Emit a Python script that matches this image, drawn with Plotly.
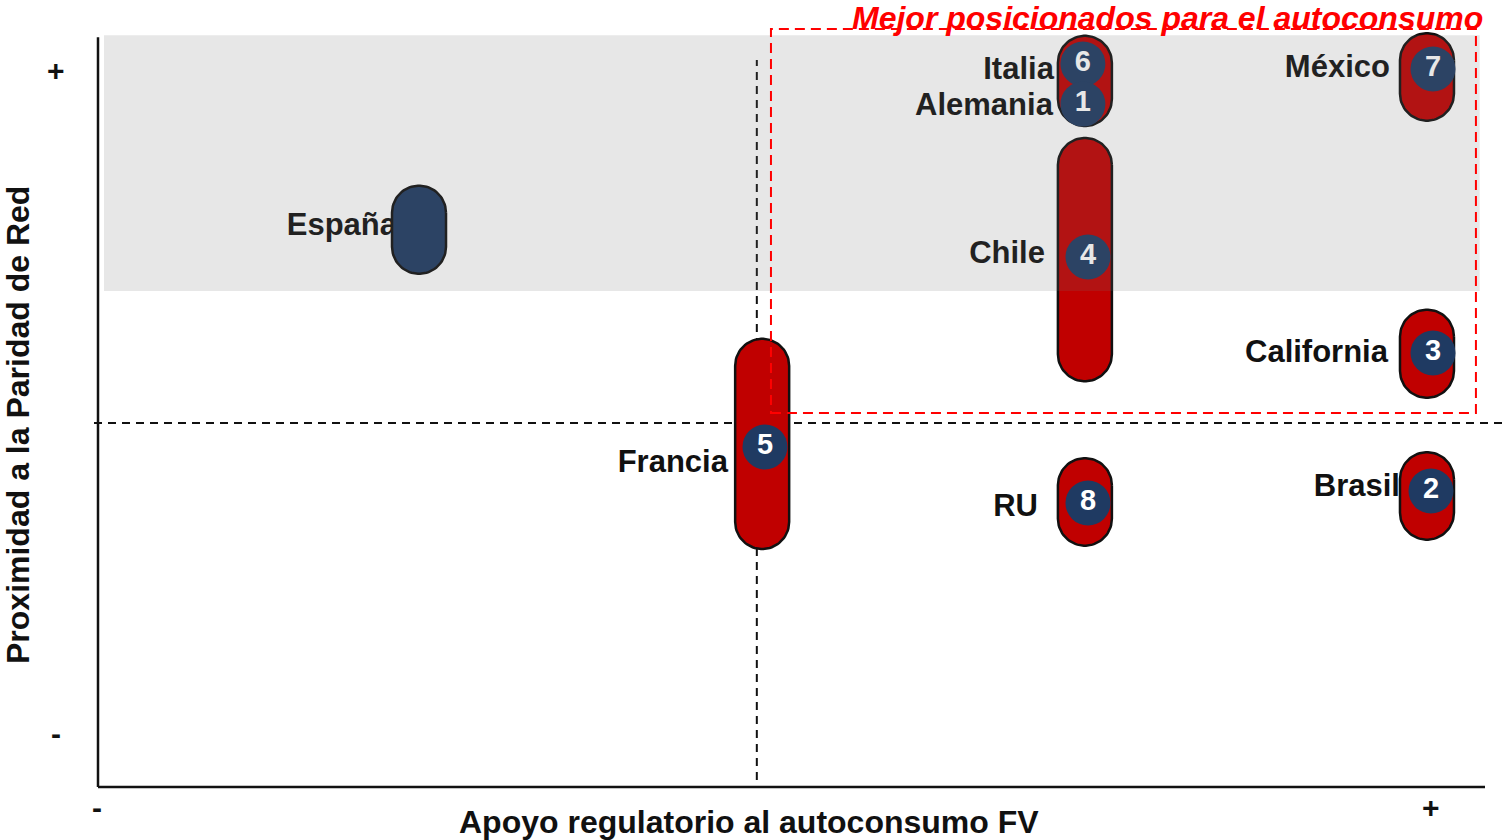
import numpy as np
import plotly.graph_objects as go

# ---------------- data ----------------
# vertical range of each country's capsule (proximity to grid parity)
rango_nombre = ["España", "Francia", "Italia / Alemania", "Chile", "México", "California", "Brasil", "RU"]
rango_x = [0.2407, 0.498, 0.740, 0.740, 0.9965, 0.9965, 0.9965, 0.740]
rango_min = [0.694, 0.279, 0.917, 0.532, 0.925, 0.507, 0.293, 0.284]
rango_max = [0.827, 0.596, 1.053, 0.899, 1.057, 0.640, 0.425, 0.416]

# ranking positions (numbered markers)
puesto = [1, 2, 3, 4, 5, 6, 7, 8]
puesto_pais = ["Alemania", "Brasil", "California", "Chile", "Francia", "Italia", "México", "RU"]
puesto_x = [0.7385, 0.9995, 1.001, 0.7423, 0.5001, 0.7385, 1.001, 0.7423]
puesto_y = [0.950, 0.3665, 0.5747, 0.7195, 0.4329, 1.0106, 1.003, 0.3484]

# quadrant split and highlighted zones
corte_x = 0.494
corte_y = 0.469
franja_y = [0.668, 1.054]
mejor_x = [0.5046, 1.0332]
mejor_y = [0.4842, 1.0633]

eje_ticks = [0, 1]
eje_ticktext = ["-", "+"]

# ---------------- layout geometry ----------------
W, H = 1505, 840
ML, MR, MT, MB = 90, 0, 0, 50
X_RANGE = [-0.006, 1.055]
Y_RANGE = [-0.0845, 1.107]
PW, PH = W - ML - MR, H - MT - MB
SX = PW / (X_RANGE[1] - X_RANGE[0])   # px per x unit
SY = PH / (Y_RANGE[1] - Y_RANGE[0])   # px per y unit

FONT = "Liberation Sans, Arial, sans-serif"
INK = "#111111"
RED = "#C00000"
NAVY = "#1F3A62"

color_capsula = {"España": NAVY}

# label nudges in pixels (dx to right edge of text, dy downward)
label_nudge = {
    "Italia": (-29, 7), "Alemania": (-30, 3), "Chile": (-43, -2),
    "México": (-43, 0), "California": (-45, 1), "Brasil": (-31, -3),
    "RU": (-50, 5), "Francia": (-37, 17), "España": (-22, -2),
}


def capsule(cx, y0, y1, half_w_px=27, n=40):
    rx = half_w_px / SX
    ry = half_w_px / SY
    t_top = np.linspace(0, np.pi, n)
    t_bot = np.linspace(np.pi, 2 * np.pi, n)
    xs = np.concatenate([cx + rx * np.cos(t_top), cx + rx * np.cos(t_bot), [cx + rx]])
    ys = np.concatenate([(y1 - ry) + ry * np.sin(t_top), (y0 + ry) + ry * np.sin(t_bot), [y1 - ry]])
    return xs, ys


fig = go.Figure()

# country labels (drawn first, capsules sit over them)
lab_x, lab_y, lab_t = [], [], []
for p, x, y in zip(puesto_pais, puesto_x, puesto_y):
    dx, dy = label_nudge[p]
    lab_x.append(x + dx / SX)
    lab_y.append(y - dy / SY)
    lab_t.append(p)
i_es = rango_nombre.index("España")
dx, dy = label_nudge["España"]
lab_x.append(rango_x[i_es] + dx / SX)
lab_y.append((rango_min[i_es] + rango_max[i_es]) / 2 - dy / SY)
lab_t.append("España")

fig.add_trace(go.Scatter(
    x=lab_x, y=lab_y, text=lab_t, mode="text", textposition="middle left",
    textfont=dict(family=FONT, size=31, color=INK, weight="bold"),
    hoverinfo="skip", showlegend=False,
))

# capsules
for name, cx, y0, y1 in zip(rango_nombre, rango_x, rango_min, rango_max):
    xs, ys = capsule(cx, y0, y1)
    fig.add_trace(go.Scatter(
        x=xs, y=ys, mode="lines", fill="toself",
        fillcolor=color_capsula.get(name, RED),
        line=dict(color=INK, width=2.5),
        hoverinfo="skip", showlegend=False,
    ))

# numbered ranking markers (drawn from last to first so lower ranks sit on top)
order = list(range(len(puesto)))[::-1]
fig.add_trace(go.Scatter(
    x=[puesto_x[i] for i in order], y=[puesto_y[i] for i in order],
    text=[str(puesto[i]) for i in order],
    mode="markers+text", textposition="middle center",
    marker=dict(size=45, color=NAVY, line=dict(width=0)),
    textfont=dict(family=FONT, size=29, color="white", weight="bold"),
    hoverinfo="skip", showlegend=False,
))

shapes = [
    # quadrant split lines
    dict(type="line", xref="x", yref="y", x0=corte_x, x1=corte_x,
         y0=(734 - 780) / 663, y1=(734 - 60) / 663,
         line=dict(color=INK, width=2, dash="8px,6px"), layer="below"),
    dict(type="line", xref="x", yref="y", x0=-0.003, x1=X_RANGE[1],
         y0=corte_y, y1=corte_y,
         line=dict(color=INK, width=2, dash="8px,6px"), layer="below"),
    # axis lines
    dict(type="line", xref="x", yref="y", x0=0, x1=0, y0=-0.08, y1=1.051,
         line=dict(color=INK, width=2.5), layer="above"),
    dict(type="line", xref="x", yref="y", x0=0, x1=1.04, y0=-0.08, y1=-0.08,
         line=dict(color=INK, width=2.5), layer="above"),
    # translucent grey band over the top zone
    dict(type="rect", xref="x", yref="y", x0=0.0045, x1=1.036,
         y0=franja_y[0], y1=franja_y[1],
         fillcolor="rgba(114,114,114,0.167)", line=dict(width=0), layer="above"),
    # best-positioned zone
    dict(type="rect", xref="x", yref="y", x0=mejor_x[0], x1=mejor_x[1],
         y0=mejor_y[0], y1=mejor_y[1],
         fillcolor="rgba(0,0,0,0)", line=dict(color="#FF0000", width=2, dash="10px,6px"),
         layer="above"),
]


def px_x(px):
    return (px - ML) / PW


def px_y(py):
    return (H - MB - py) / PH


annotations = [
    dict(text="<b><i>Mejor posicionados para el autoconsumo</i></b>",
         xref="paper", yref="paper", x=px_x(1484), y=px_y(18),
         xanchor="right", yanchor="middle", showarrow=False, borderpad=0,
         font=dict(family=FONT, size=32, color="#FF0000")),
    dict(text="<b>Apoyo regulatorio al autoconsumo FV</b>",
         xref="paper", yref="paper", x=px_x(749), y=px_y(822),
         xanchor="center", yanchor="middle", showarrow=False,
         font=dict(family=FONT, size=32, color=INK)),
    dict(text="<b>Proximidad a la Paridad de Red</b>", textangle=-90,
         xref="paper", yref="paper", x=px_x(18), y=px_y(425),
         xanchor="center", yanchor="middle", showarrow=False,
         font=dict(family=FONT, size=32, color=INK)),
]
# axis end markers
for v, t in zip(eje_ticks, eje_ticktext):
    annotations.append(dict(text=f"<b>{t}</b>", xref="x", yref="paper",
                            x=v - 1 / SX, y=px_y(808), xanchor="center", yanchor="middle",
                            showarrow=False, font=dict(family=FONT, size=30, color=INK)))
    annotations.append(dict(text=f"<b>{t}</b>", xref="paper", yref="y",
                            x=px_x(56), y=v, xanchor="center", yanchor="middle",
                            showarrow=False, font=dict(family=FONT, size=30, color=INK)))

fig.update_layout(
    width=W, height=H,
    margin=dict(l=ML, r=MR, t=MT, b=MB),
    paper_bgcolor="white", plot_bgcolor="white",
    xaxis=dict(range=X_RANGE, visible=False, fixedrange=True),
    yaxis=dict(range=Y_RANGE, visible=False, fixedrange=True),
    shapes=shapes, annotations=annotations,
    hovermode=False, showlegend=False,
)

fig.write_html("out.html", config={"displayModeBar": False})
